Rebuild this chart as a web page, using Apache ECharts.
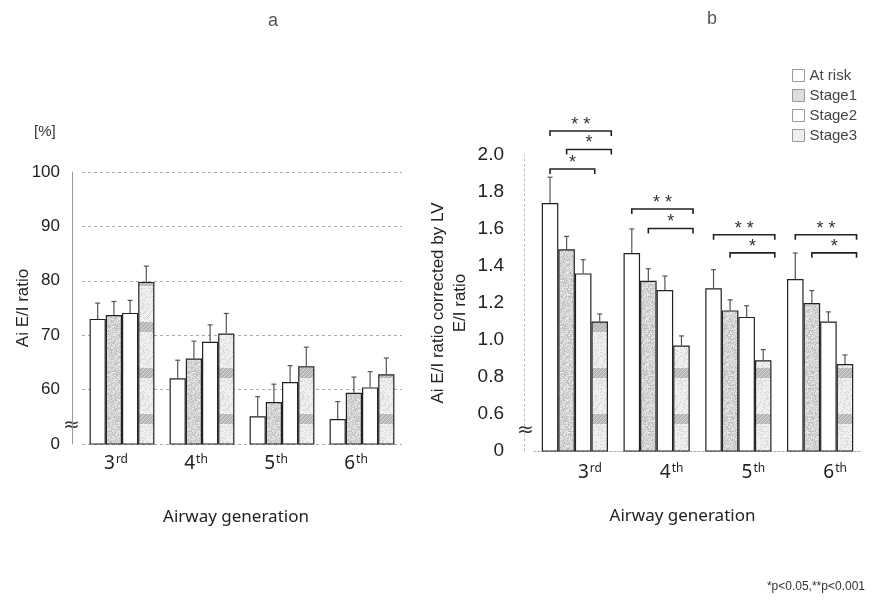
<!DOCTYPE html>
<html>
<head>
<meta charset="utf-8">
<script src="https://cdn.jsdelivr.net/npm/echarts@6/dist/echarts.min.js"></script>
<style>
  html, body { margin: 0; padding: 0; background: #fff; }
  #chart { width: 876px; height: 600px; }
</style>
</head>
<body>
<div id="chart"></div>
<script>
// categories and groups
const categories = ['3rd', '4th', '5th', '6th']
const groups = ['At risk', 'Stage1', 'Stage2', 'Stage3']

// panel a: Ai E/I ratio [%] (mean and SD, axis broken below 50)
const aAtRisk = [73.0, 62.1, 55.1, 54.6]
const aStage1 = [73.7, 65.7, 57.7, 59.4]
const aStage2 = [74.1, 68.8, 61.4, 60.4]
const aStage3 = [79.8, 70.3, 64.3, 62.8]
const aAtRiskSd = [2.9, 3.3, 3.6, 3.2]
const aStage1Sd = [2.5, 3.2, 3.3, 2.9]
const aStage2Sd = [2.3, 3.1, 3.0, 2.9]
const aStage3Sd = [2.9, 3.7, 3.5, 3.0]

// panel b: Ai E/I ratio corrected by LV E/I ratio (axis broken below 0.4)
const bAtRisk = [1.74, 1.47, 1.28, 1.33]
const bStage1 = [1.49, 1.32, 1.16, 1.20]
const bStage2 = [1.36, 1.27, 1.125, 1.10]
const bStage3 = [1.10, 0.97, 0.89, 0.87]
const bAtRiskSd = [0.14, 0.13, 0.10, 0.14]
const bStage1Sd = [0.07, 0.065, 0.057, 0.067]
const bStage2Sd = [0.074, 0.076, 0.06, 0.052]
const bStage3Sd = [0.041, 0.052, 0.058, 0.049]

// significance: [category, from group, to group, height, mark]
const bSig = [
  [0, 0, 3, 2.13, '**'],
  [0, 1, 3, 2.03, '*'],
  [0, 0, 2, 1.924, '*'],
  [1, 0, 3, 1.708, '**'],
  [1, 1, 3, 1.603, '*'],
  [2, 0, 3, 1.569, '**'],
  [2, 1, 3, 1.471, '*'],
  [3, 0, 3, 1.569, '**'],
  [3, 1, 3, 1.471, '*']
]

const aMeans = [aAtRisk, aStage1, aStage2, aStage3]
const aSds = [aAtRiskSd, aStage1Sd, aStage2Sd, aStage3Sd]
const bMeans = [bAtRisk, bStage1, bStage2, bStage3]
const bSds = [bAtRiskSd, bStage1Sd, bStage2Sd, bStage3Sd]

const gapFrac = 0.19

// fill patterns (speckled gray, banded)
function speck (x, y, m) {
  return (((x * 73856093) ^ (y * 19349663)) >>> 0) % m === 0
}
function makePattern (kind) {
  const c = document.createElement('canvas')
  c.width = 16
  c.height = 46
  const ctx = c.getContext('2d')
  if (kind === 'stipple') {
    ctx.fillStyle = '#d9d9d9'
    ctx.fillRect(0, 0, 16, 46)
    for (let y = 0; y < 46; y++) {
      for (let x = 0; x < 16; x++) {
        if (speck(x, y, 3)) { ctx.fillStyle = '#c0c0c0'; ctx.fillRect(x, y, 1, 1) }
        else if (speck(x + 5, y + 11, 5)) { ctx.fillStyle = '#f0f0f0'; ctx.fillRect(x, y, 1, 1) }
      }
    }
  } else {
    ctx.fillStyle = '#efefef'
    ctx.fillRect(0, 0, 16, 46)
    for (let y = 0; y < 46; y++) {
      for (let x = 0; x < 16; x++) {
        if (speck(x, y, 6)) { ctx.fillStyle = '#cfcfcf'; ctx.fillRect(x, y, 1, 1) }
      }
    }
    ctx.fillStyle = '#b5b5b5'
    ctx.fillRect(0, 0, 16, 10)
    for (let y = 0; y < 10; y++) {
      for (let x = 0; x < 16; x++) {
        if (speck(x, y, 4)) { ctx.fillStyle = '#d8d8d8'; ctx.fillRect(x, y, 1, 1) }
      }
    }
  }
  return { image: c, repeat: 'repeat' }
}

const fills = ['#ffffff', makePattern('stipple'), '#ffffff', makePattern('band')]
const legendFills = ['#ffffff', '#dddddd', '#ffffff', '#eeeeee']

function barPos (api, cat, s) {
  const c = api.coord([cat, 0])
  const band = api.size([1, 0])[0]
  const bw = band * (1 - gapFrac) / 4
  return { x: c[0] - 2 * bw + (s + 0.5) * bw, bw: bw }
}

function errorSeries (means, sds, axis) {
  const data = []
  means.forEach((arr, s) => {
    arr.forEach((v, i) => data.push([i, s, v, sds[s][i]]))
  })
  return {
    type: 'custom',
    xAxisIndex: axis,
    yAxisIndex: axis,
    z: 5,
    silent: true,
    data: data,
    renderItem: function (params, api) {
      const cat = api.value(0)
      const s = api.value(1)
      const m = api.value(2)
      const sd = api.value(3)
      const p = barPos(api, cat, s)
      const y0 = api.coord([cat, m])[1]
      const y1 = api.coord([cat, m + sd])[1]
      return {
        type: 'group',
        children: [
          { type: 'line', shape: { x1: p.x, y1: y0, x2: p.x, y2: y1 }, style: { stroke: '#555', lineWidth: 1.2 } },
          { type: 'line', shape: { x1: p.x - 2.5, y1: y1, x2: p.x + 2.5, y2: y1 }, style: { stroke: '#555', lineWidth: 1.2 } }
        ]
      }
    }
  }
}

const sigSeries = {
  type: 'custom',
  xAxisIndex: 1,
  yAxisIndex: 1,
  z: 6,
  silent: true,
  clip: false,
  data: bSig.map(d => [d[0], d[1], d[2], d[3]]),
  renderItem: function (params, api) {
    const cat = api.value(0)
    const a = barPos(api, cat, api.value(1))
    const b = barPos(api, cat, api.value(2))
    const y = api.coord([cat, api.value(3)])[1]
    const x1 = a.x
    const x2 = b.x + b.bw * 0.7
    const mark = bSig[params.dataIndex][4].split('').join(' ')
    return {
      type: 'group',
      children: [
        { type: 'polyline', shape: { points: [[x1, y + 5], [x1, y], [x2, y], [x2, y + 5]] }, style: { stroke: '#222', lineWidth: 1.6, fill: null } },
        { type: 'text', x: (x1 + x2) / 2, y: y + 3, style: { text: mark, fill: '#333', font: '18px "Liberation Sans"', align: 'center', verticalAlign: 'bottom' } }
      ]
    }
  }
}

function barSeries (means, axis) {
  return means.map((arr, s) => ({
    name: groups[s],
    type: 'bar',
    xAxisIndex: axis,
    yAxisIndex: axis,
    barGap: '0%',
    barCategoryGap: (gapFrac * 100) + '%',
    data: arr,
    itemStyle: { color: fills[s], borderColor: '#222', borderWidth: 1.2 }
  }))
}

const catLabel = {
  interval: 0,
  fontFamily: 'Noto Sans',
  color: '#222',
  formatter: v => '{n|' + v.slice(0, -2) + '}{s|' + v.slice(-2) + '}',
  rich: {
    n: { fontSize: 19, fontFamily: 'Noto Sans', color: '#222' },
    s: { fontSize: 12, fontFamily: 'Noto Sans', color: '#222', verticalAlign: 'top', padding: [0, 0, 8, 1] }
  }
}

const myChart = echarts.init(document.getElementById('chart'))
myChart.setOption({
  animation: false,
  backgroundColor: '#fff',
  legend: {
    data: groups.map((g, i) => ({ name: g, itemStyle: { color: legendFills[i] } })),
    orient: 'vertical',
    left: 787,
    top: 63,
    itemWidth: 12,
    itemHeight: 12,
    itemGap: 5,
    icon: 'rect',
    itemStyle: { borderColor: '#999', borderWidth: 1 },
    textStyle: { fontFamily: 'Liberation Sans', fontSize: 15, color: '#444' }
  },
  grid: [
    { left: 82, right: 474, top: 172, bottom: 156 },
    { left: 534, right: 15, top: 155, bottom: 149 }
  ],
  xAxis: [
    {
      type: 'category',
      gridIndex: 0,
      data: categories,
      axisLine: { show: false },
      axisTick: { show: false },
      axisLabel: Object.assign({ margin: 10, padding: [0, 12, 0, 0] }, catLabel),
      name: 'Airway generation',
      nameLocation: 'middle',
      nameGap: 65,
      nameTextStyle: { fontFamily: 'Noto Sans', fontSize: 17, color: '#222', padding: [0, 12, 0, 0] }
    },
    {
      type: 'category',
      gridIndex: 1,
      data: categories,
      axisLine: { lineStyle: { color: '#aaa', type: [2, 2] } },
      axisTick: { show: false },
      axisLabel: Object.assign({ margin: 12, padding: [0, 0, 0, 30] }, catLabel),
      name: 'Airway generation',
      nameLocation: 'middle',
      nameGap: 57,
      nameTextStyle: { fontFamily: 'Noto Sans', fontSize: 17, color: '#222', padding: [0, 30, 0, 0] }
    }
  ],
  yAxis: [
    {
      type: 'value',
      gridIndex: 0,
      min: 50,
      max: 100,
      interval: 10,
      offset: 10,
      axisLine: { show: true, lineStyle: { color: '#999' } },
      axisTick: { show: false },
      splitLine: { lineStyle: { color: '#aaa', type: [3, 3] } },
      axisLabel: {
        margin: 12,
        fontFamily: 'Liberation Sans',
        fontSize: 17,
        color: '#222',
        formatter: v => (v === 50 ? '0' : String(v))
      },
      name: 'Ai E/I ratio',
      nameLocation: 'middle',
      nameGap: 40,
      nameMoveOverlap: false,
      nameTextStyle: { fontFamily: 'Liberation Sans', fontSize: 17, color: '#222' }
    },
    {
      type: 'value',
      gridIndex: 1,
      min: 0.4,
      max: 2.0,
      interval: 0.2,
      offset: 10,
      axisLine: { show: true, lineStyle: { color: '#bbb', type: [2, 3] } },
      axisTick: { show: false },
      splitLine: { show: false },
      axisLabel: {
        margin: 20,
        fontFamily: 'Liberation Sans',
        fontSize: 19,
        color: '#222',
        formatter: v => (v < 0.5 ? '0' : v.toFixed(1))
      },
      name: 'Ai E/I ratio corrected by LV\nE/I ratio',
      nameLocation: 'middle',
      nameGap: 53,
      nameTextStyle: { fontFamily: 'Liberation Sans', fontSize: 17, lineHeight: 22, color: '#222' }
    }
  ],
  graphic: [
    { type: 'text', left: 268, top: 12, style: { text: 'a', font: '18px "Liberation Sans"', fill: '#555' } },
    { type: 'text', left: 707, top: 10, style: { text: 'b', font: '18px "Liberation Sans"', fill: '#555' } },
    { type: 'text', left: 34, top: 124, style: { text: '[%]', font: '15px "Liberation Sans"', fill: '#333' } },
    { type: 'text', left: 63, top: 416, style: { text: '≈', font: '20px "DejaVu Sans"', fill: '#333' } },
    { type: 'text', left: 517, top: 421, style: { text: '≈', font: '20px "DejaVu Sans"', fill: '#333' } },
    { type: 'text', right: 11, top: 581, style: { text: '*p<0.05,**p<0.001', font: '12px "Liberation Sans"', fill: '#333' } }
  ],
  series: [].concat(
    barSeries(aMeans, 0),
    barSeries(bMeans, 1),
    [errorSeries(aMeans, aSds, 0), errorSeries(bMeans, bSds, 1), sigSeries]
  )
})
window.addEventListener('resize', () => myChart.resize())
</script>
</body>
</html>
